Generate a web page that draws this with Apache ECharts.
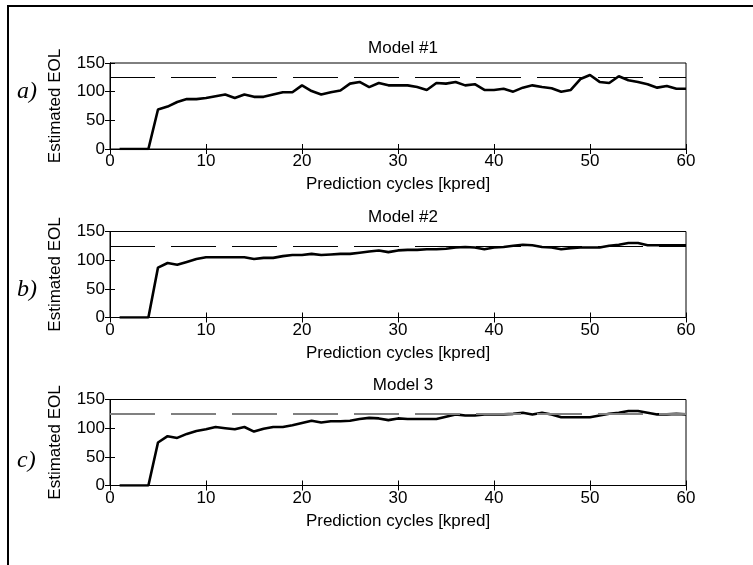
<!DOCTYPE html>
<html>
<head>
<meta charset="utf-8">
<script src="https://cdn.jsdelivr.net/npm/echarts@6/dist/echarts.min.js"></script>
<style>
html,body{margin:0;padding:0;background:#fff;}
#chart{width:753px;height:565px;}
</style>
</head>
<body>
<div id="chart"></div>
<script>
// ---- data ----
var cycles = [1,2,3,4,5,6,7,8,9,10,11,12,13,14,15,16,17,18,19,20,21,22,23,24,25,26,27,28,29,30,31,32,33,34,35,36,37,38,39,40,41,42,43,44,45,46,47,48,49,50,51,52,53,54,55,56,57,58,59,60];
var model1 = [0,0,0,0,69,74,82,87,87,89,92,95,89,95,91,91,95,99,99,111,101,95,99,102,114,117,108,115,111,111,111,108,103,115,114,117,111,113,103,103,105,100,107,111,108,106,100,103,122,129,117,115,127,120,117,113,107,110,105,105];
var model2 = [0,0,0,0,87,95,92,97,102,105,105,105,105,105,102,104,104,107,109,109,111,109,110,111,111,113,115,117,114,117,118,118,119,119,120,122,123,122,119,122,123,125,127,126,123,122,119,121,122,122,122,125,127,130,130,126,126,126,126,126];
var model3 = [0,0,0,0,75,86,83,90,95,98,102,100,98,102,94,99,102,102,105,109,113,110,112,112,113,116,118,117,114,117,116,116,116,116,120,124,122,122,124,124,124,125,127,124,127,124,119,119,119,119,122,125,127,130,130,127,124,124,125,124];
var eolThreshold = 125;
var titles = ['Model #1', 'Model #2', 'Model 3'];
var panelLetters = ['a)', 'b)', 'c)'];
var xTicks = [0, 10, 20, 30, 40, 50, 60];
var yTicks = [0, 50, 100, 150];
var xName = 'Prediction cycles [kpred]';
var yName = 'Estimated EOL';

// ---- layout ----
var FONT = 'Liberation Sans, Arial, Helvetica, sans-serif';
var gridLeft = 110, gridWidth = 576;
var gridTops = [63, 231.5, 399.5];
var gridH = 86;
var letterY = [93, 291, 462];
var dashColors = ['#000', '#000', '#808080'];
var dashWidths = [1, 1, 2];
var seriesData = [model1, model2, model3];

function pairs(vals){ return cycles.map(function(c,i){ return [c, vals[i]]; }); }

var grids = [], xAxes = [], yAxes = [], series = [], titleArr = [], graphics = [];
for (var g = 0; g < 3; g++) {
  grids.push({left: gridLeft, width: gridWidth, top: gridTops[g], height: gridH, show: true,
    borderColor: '#000', borderWidth: 1, backgroundColor: '#fff', containLabel: false});
  var tickCommon = {show: true, inside: true, length: 5, lineStyle: {color: '#000', width: 1}};
  xAxes.push({type: 'value', gridIndex: g, position: 'bottom', min: xTicks[0], max: xTicks[xTicks.length-1], interval: 10,
    axisLine: {show: true, lineStyle: {color: '#000', width: 1}}, axisTick: tickCommon, splitLine: {show: false},
    axisLabel: {color: '#000', fontSize: 17, fontFamily: FONT, margin: 4},
    name: xName, nameLocation: 'middle', nameGap: 27,
    nameTextStyle: {color: '#000', fontSize: 17, fontFamily: FONT}});
  xAxes.push({type: 'value', gridIndex: g, position: 'top', min: xTicks[0], max: xTicks[xTicks.length-1], interval: 10,
    axisLine: {show: true, lineStyle: {color: '#000', width: 1}}, axisTick: tickCommon, splitLine: {show: false},
    axisLabel: {show: false}});
  yAxes.push({type: 'value', gridIndex: g, position: 'left', min: yTicks[0], max: yTicks[yTicks.length-1], interval: 50,
    axisLine: {show: true, lineStyle: {color: '#000', width: 1}}, axisTick: tickCommon, splitLine: {show: false},
    axisLabel: {color: '#000', fontSize: 17, fontFamily: FONT, margin: 5},
    name: yName, nameLocation: 'middle', nameGap: 46, nameRotate: 90,
    nameTextStyle: {color: '#000', fontSize: 17, fontFamily: FONT}});
  yAxes.push({type: 'value', gridIndex: g, position: 'right', min: yTicks[0], max: yTicks[yTicks.length-1], interval: 50,
    axisLine: {show: true, lineStyle: {color: '#000', width: 1}}, axisTick: tickCommon, splitLine: {show: false},
    axisLabel: {show: false}});
  series.push({type: 'line', xAxisIndex: 2*g, yAxisIndex: 2*g, data: pairs(seriesData[g]),
    showSymbol: false, symbol: 'none', lineStyle: {color: '#000', width: 2.6}, z: 3,
    markLine: {silent: true, symbol: 'none', label: {show: false},
      lineStyle: {color: dashColors[g], width: dashWidths[g], type: [45, 16]},
      data: [{yAxis: eolThreshold}]}});
  titleArr.push({text: titles[g], left: 398, top: gridTops[g] - 28, textAlign: 'center',
    textStyle: {color: '#000', fontSize: 17, fontWeight: 'normal', fontFamily: FONT}});
  graphics.push({type: 'text', left: 17, top: letterY[g] - 13,
    style: {text: panelLetters[g], fill: '#000', font: 'italic 24px "Liberation Serif", "Times New Roman", serif'}});
}
graphics.push({type: 'rect', shape: {x: 8, y: 6, width: 800, height: 700},
  style: {fill: 'none', stroke: '#000', lineWidth: 2}, z: -10});

var chart = echarts.init(document.getElementById('chart'), null, {renderer: 'canvas'});
chart.setOption({
  backgroundColor: '#fff',
  animation: false,
  title: titleArr,
  grid: grids,
  xAxis: xAxes,
  yAxis: yAxes,
  series: series,
  graphic: graphics
});
</script>
</body>
</html>
